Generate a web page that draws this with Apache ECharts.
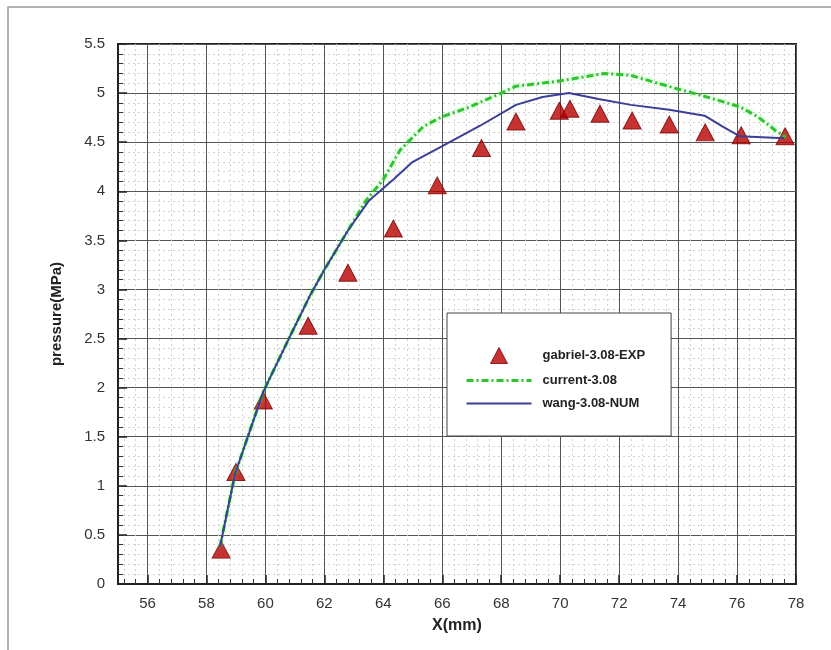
<!DOCTYPE html>
<html>
<head>
<meta charset="utf-8">
<script src="https://cdn.jsdelivr.net/npm/echarts@6/dist/echarts.min.js"></script>
<style>
html,body{margin:0;padding:0;background:#fff;}
#chart{width:831px;height:650px;}
</style>
</head>
<body>
<div id="chart"></div>
<script>
// Experimental data (gabriel-3.08-EXP)
var expX = [58.5, 59.0, 59.93, 61.45, 62.8, 64.34, 65.83, 67.33, 68.5, 69.97, 70.33, 71.35, 72.44, 73.7, 74.92, 76.14, 77.63];
var expY = [0.35, 1.14, 1.87, 2.63, 3.17, 3.62, 4.06, 4.44, 4.71, 4.82, 4.84, 4.79, 4.72, 4.68, 4.6, 4.57, 4.56];
// current-3.08
var curX = [58.46, 58.97, 59.93, 60.83, 61.5, 62.0, 62.8, 63.4, 64.0, 64.57, 65.36, 66.0, 66.94, 68.0, 68.5, 69.9, 70.7, 71.5, 72.4, 73.9, 75.1, 76.1, 76.7, 77.3, 77.65];
var curY = [0.38, 1.12, 1.96, 2.52, 2.93, 3.2, 3.6, 3.9, 4.12, 4.42, 4.66, 4.76, 4.86, 5.0, 5.07, 5.12, 5.16, 5.2, 5.18, 5.05, 4.95, 4.86, 4.76, 4.62, 4.55];
// wang-3.08-NUM
var wangX = [58.46, 58.97, 59.93, 60.83, 61.5, 62.0, 62.8, 63.5, 64.34, 65.0, 66.0, 67.3, 68.5, 69.4, 70.3, 71.3, 72.4, 73.7, 74.9, 75.5, 76.1, 77.6];
var wangY = [0.38, 1.12, 1.96, 2.52, 2.93, 3.2, 3.6, 3.9, 4.12, 4.3, 4.46, 4.67, 4.88, 4.96, 5.0, 4.94, 4.88, 4.83, 4.77, 4.66, 4.56, 4.54];

var seriesNames = ['gabriel-3.08-EXP', 'current-3.08', 'wang-3.08-NUM'];
var xName = 'X(mm)';
var yName = 'pressure(MPa)';

function zip(a, b) { return a.map(function (v, i) { return [v, b[i]]; }); }

var RED = '#b80000', GREEN = '#2fc42f', BLUE = '#3b3f96';
var greenDash = [7, 3, 2, 3];
var triPath = 'path://M9,0 L18,17 L0,17 Z';
var tickFont = "'Liberation Sans Narrow', 'Liberation Sans', Arial, sans-serif";
var chart = echarts.init(document.getElementById('chart'), null, {renderer: 'canvas'});
chart.setOption({
  backgroundColor: '#fff',
  animation: false,
  graphic: [{
    type: 'rect', silent: true, z: -10,
    shape: {x: 8, y: 7, width: 900, height: 700},
    style: {fill: 'none', stroke: '#9a9a9a', lineWidth: 1.5}
  }],
  grid: {
    left: 118, right: 35, top: 44, bottom: 66,
    show: true, borderColor: '#222', borderWidth: 2, backgroundColor: 'transparent'
  },
  legend: {
    left: 447, top: 313,
    orient: 'vertical',
    padding: [34, 26, 26, 18],
    itemGap: 10,
    itemWidth: 65, itemHeight: 16,
    symbolKeepAspect: true,
    borderColor: '#444', borderWidth: 1,
    backgroundColor: '#fff',
    data: [
      {name: seriesNames[0], icon: triPath, itemStyle: {color: RED, borderColor: '#7a0000', borderWidth: 1}},
      {name: seriesNames[1], itemStyle: {color: 'transparent', opacity: 0, borderWidth: 0},
       lineStyle: {color: GREEN, width: 3, type: greenDash, opacity: 1}},
      {name: seriesNames[2], itemStyle: {color: 'transparent', opacity: 0, borderWidth: 0},
       lineStyle: {color: BLUE, width: 2, opacity: 1}}
    ],
    textStyle: {fontFamily: 'Arial, Liberation Sans, sans-serif', fontWeight: 'bold', fontSize: 13, color: '#222', padding: [0, 0, 0, 6]}
  },
  xAxis: {
    type: 'value', min: 55, max: 78,
    splitNumber: 11, minInterval: 2, maxInterval: 2,
    name: xName, nameLocation: 'middle', nameGap: 34,
    nameTextStyle: {fontFamily: 'Arial, Liberation Sans, sans-serif', fontWeight: 'bold', fontSize: 16, color: '#222'},
    axisLine: {show: true, onZero: false, lineStyle: {color: '#222', width: 2}},
    axisTick: {show: true, inside: true, length: 9, lineStyle: {color: '#222', width: 1.5}},
    minorTick: {show: true, splitNumber: 5, length: 5, lineStyle: {color: '#333', width: 1}},
    axisLabel: {show: true, margin: 12, fontSize: 15, color: '#333', fontFamily: tickFont, showMinLabel: false},
    splitLine: {show: true, lineStyle: {color: '#555', width: 1}},
    minorSplitLine: {show: true, lineStyle: {color: '#d2d2d2', width: 1, type: [2, 3]}}
  },
  yAxis: {
    type: 'value', min: 0, max: 5.5, interval: 0.5,
    name: yName, nameLocation: 'middle', nameGap: 54, nameRotate: 90,
    nameTextStyle: {fontFamily: 'Arial, Liberation Sans, sans-serif', fontWeight: 'bold', fontSize: 15, color: '#222'},
    axisLine: {show: true, onZero: false, lineStyle: {color: '#222', width: 2}},
    axisTick: {show: true, inside: true, length: 9, lineStyle: {color: '#222', width: 1.5}},
    minorTick: {show: true, splitNumber: 5, length: 5, lineStyle: {color: '#333', width: 1}},
    axisLabel: {show: true, margin: 13, fontSize: 15, color: '#333', fontFamily: tickFont},
    splitLine: {show: true, lineStyle: {color: '#555', width: 1}},
    minorSplitLine: {show: true, lineStyle: {color: '#d2d2d2', width: 1, type: [2, 3]}}
  },
  series: [
    {
      name: seriesNames[0], type: 'scatter', z: 2,
      symbol: 'triangle', symbolSize: [18, 17],
      itemStyle: {color: RED, borderColor: '#7a0000', borderWidth: 1},
      data: zip(expX, expY)
    },
    {
      name: seriesNames[1], type: 'line', z: 3,
      symbol: 'none', smooth: false,
      lineStyle: {color: GREEN, width: 3, type: greenDash, shadowColor: 'rgba(80,255,80,0.5)', shadowBlur: 4},
      itemStyle: {color: GREEN},
      data: zip(curX, curY)
    },
    {
      name: seriesNames[2], type: 'line', z: 4,
      symbol: 'none', smooth: false,
      lineStyle: {color: BLUE, width: 2},
      itemStyle: {color: BLUE},
      data: zip(wangX, wangY)
    }
  ]
});
</script>
</body>
</html>
